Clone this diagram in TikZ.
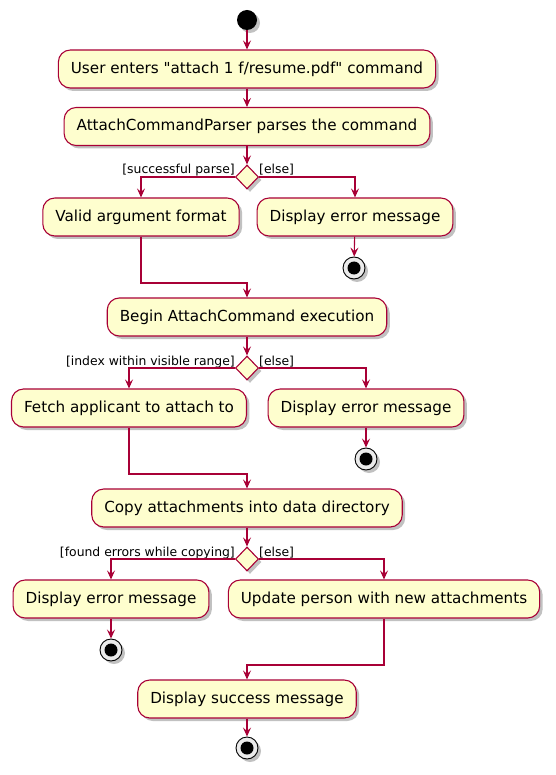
\documentclass[tikz,border=0pt]{standalone}
\usepackage{fontspec}
\setmainfont{DejaVu Sans}[Ligatures=TeXOff]
\usetikzlibrary{positioning, arrows.meta, shapes.geometric, shadows}
\definecolor{umlred}{HTML}{A80036}
\definecolor{umlfill}{HTML}{FEFECE}
\tikzset{
  umlshadow/.style = {drop shadow={shadow xshift=3pt, shadow yshift=-3pt,
                      opacity=0.35, fill=black!70}},
  actbox/.style    = {draw=umlred, fill=umlfill, line width=1.1pt,
                      rounded corners=12pt, minimum height=38pt,
                      inner xsep=12.5pt, align=center, umlshadow,
                      font=\fontsize{15.2}{17}\selectfont},
  decision/.style  = {diamond, draw=umlred, fill=umlfill, line width=1.1pt,
                      minimum width=23pt, minimum height=24pt, inner sep=0pt,
                      umlshadow},
  startdot/.style  = {circle, fill=black, minimum size=20pt, inner sep=0pt,
                      umlshadow},
  stopdot/.style   = {circle, draw=black, fill=black!8, line width=0.9pt,
                      minimum size=22pt, inner sep=0pt, umlshadow,
                      path picture={\fill[black] (path picture bounding box.center)
                                    circle (6.5pt);}},
  flow/.style      = {-{Stealth[length=9pt, width=8pt, inset=3.5pt]},
                      draw=umlred, line width=1.1pt},
  guard/.style     = {font=\fontsize{12.4}{14}\selectfont, inner sep=0pt},
}
\begin{document}
\begin{tikzpicture}[x=1pt, y=-1pt]
    \useasboundingbox (0,0) rectangle (555,775);
    % Parsing
    \node[startdot] (start) at (247,20) {};
    \node[actbox] (enter) at (247,69) {User enters "attach 1 f/resume.pdf" command};
    \node[actbox] (parse) at (247,126.5) {AttachCommandParser parses the command};
    \node[decision] (okparse) at (247,177) {};
    \node[guard, anchor=base east] (gparse) at (235,174) {[successful parse]};
    \node[guard, anchor=base west] (gparseno) at (259,174) {[else]};
    \node[actbox] (valid) at (141,217) {Valid argument format};
    \node[actbox] (errparse) at (355,217) {Display error message};
    \node[stopdot] (stopparse) at (354,268) {};
    \coordinate (joinparse) at (247,283);
    \draw[flow] (start) -- (enter);
    \draw[flow] (enter) -- (parse);
    \draw[flow] (parse) -- (okparse);
    \draw[flow] (okparse.west) -| (valid.north);
    \draw[flow] (okparse.east) -| (errparse.north);
    \draw[flow] (errparse) -- (stopparse);
    % Execution
    \node[actbox] (begin) at (247,317) {Begin AttachCommand execution};
    \node[decision] (okindex) at (247,368) {};
    \node[guard, anchor=base east] (gindex) at (235,365) {[index within visible range]};
    \node[guard, anchor=base west] (gindexno) at (259,365) {[else]};
    \node[actbox] (fetch) at (129,408) {Fetch applicant to attach to};
    \node[actbox] (errindex) at (366,408) {Display error message};
    \node[stopdot] (stopindex) at (366,459) {};
    \coordinate (joinindex) at (247,474);
    \draw[flow] (valid.south) |- (joinparse) -- (begin.north);
    \draw[flow] (begin) -- (okindex);
    \draw[flow] (okindex.west) -| (fetch.north);
    \draw[flow] (okindex.east) -| (errindex.north);
    \draw[flow] (errindex) -- (stopindex);
    % Copying
    \node[actbox] (copy) at (247,508) {Copy attachments into data directory};
    \node[decision] (okcopy) at (247,559) {};
    \node[guard, anchor=base east] (gcopy) at (235,556) {[found errors while copying]};
    \node[guard, anchor=base west] (gcopyno) at (259,556) {[else]};
    \node[actbox] (errcopy) at (111,599) {Display error message};
    \node[actbox] (update) at (384,599) {Update person with new attachments};
    \node[stopdot] (stopcopy) at (111,650) {};
    \coordinate (joincopy) at (247,665);
    \node[actbox] (success) at (247,699) {Display success message};
    \node[stopdot] (stopend) at (247,748) {};
    \draw[flow] (fetch.south) |- (joinindex) -- (copy.north);
    \draw[flow] (copy) -- (okcopy);
    \draw[flow] (okcopy.west) -| (errcopy.north);
    \draw[flow] (okcopy.east) -| (update.north);
    \draw[flow] (errcopy) -- (stopcopy);
    \draw[flow] (update.south) |- (joincopy) -- (success.north);
    \draw[flow] (success) -- (stopend);
\end{tikzpicture}
\end{document}
